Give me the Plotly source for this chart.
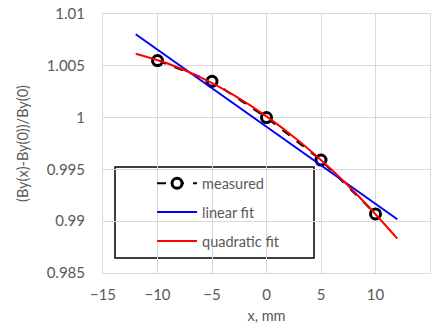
import plotly.graph_objects as go

# measured data
x_meas = [-10, -5, 0, 5, 10]
y_meas = [1.0055, 1.0035, 1.0000, 0.9959, 0.9907]

# linear fit (endpoints)
x_lin = [-12, 12]
y_lin = [1.00805, 0.99019]

# quadratic fit
x_quad = [-12, -9, -6, -3, 0, 3, 6, 9, 12]
y_quad = [1.00617, 1.00520, 1.00386, 1.00217, 1.00012, 0.99771, 0.99494, 0.99180, 0.98831]

x_ticks = [-15, -10, -5, 0, 5, 10, 15]
y_ticks = [0.985, 0.99, 0.995, 1.0, 1.005, 1.01]
y_ticktext = ["0.985", "0.99", "0.995", "1", "1.005", "1.01"]

FONT = "Lato, Carlito, Calibri, sans-serif"
GRAY = "#595959"
GRID = "#d9d9d9"

fig = go.Figure()
fig.add_trace(go.Scatter(
    x=x_meas, y=y_meas, mode="lines+markers", name="measured",
    line=dict(color="black", width=2, dash="dash"),
    marker=dict(symbol="circle", size=10, color="white", line=dict(color="black", width=3)),
    legendgroup="a",
))
fig.add_trace(go.Scatter(
    x=x_lin, y=y_lin, mode="lines", name="linear fit",
    line=dict(color="#0000ff", width=2), legendgroup="b",
))
fig.add_trace(go.Scatter(
    x=x_quad, y=y_quad, mode="lines", name="quadratic fit",
    line=dict(color="#ff0000", width=2, shape="spline"), legendgroup="c",
))

# legend frame
fig.add_shape(type="rect", xref="paper", yref="paper",
              x0=0.0367, x1=0.6453, y0=0.058, y1=0.409,
              line=dict(color="black", width=1.5), fillcolor="white", layer="between")

fig.update_layout(
    width=434, height=324,
    margin=dict(l=103, r=4, t=14, b=51),
    paper_bgcolor="white", plot_bgcolor="white",
    font=dict(family=FONT, size=14.5, color=GRAY),
    showlegend=True,
    legend=dict(
        x=0.15, y=0.408, xanchor="left", yanchor="top",
        borderwidth=0, bgcolor="rgba(0,0,0,0)",
        font=dict(family=FONT, size=14.5, color=GRAY),
        tracegroupgap=7, itemwidth=40,
    ),
    xaxis=dict(
        range=[-15, 15], tickvals=x_ticks, showgrid=True, gridcolor=GRID, gridwidth=1,
        zeroline=False, showline=True, linecolor=GRID, linewidth=1, mirror=True,
        ticks="", ticklabelstandoff=8, tickfont=dict(size=15),
        title=dict(text="x, mm", font=dict(family=FONT, size=14.5, color=GRAY), standoff=8),
    ),
    yaxis=dict(
        range=[0.985, 1.01], tickvals=y_ticks, ticktext=y_ticktext, showgrid=True,
        gridcolor=GRID, gridwidth=1, zeroline=False, showline=True, linecolor=GRID,
        linewidth=1, mirror=True, ticks="", ticklabelstandoff=14, tickfont=dict(size=15),
        title=dict(text="(By(x)-By(0))/By(0)", font=dict(family=FONT, size=14.5, color=GRAY), standoff=14),
    ),
)

fig.write_html("out.html")
